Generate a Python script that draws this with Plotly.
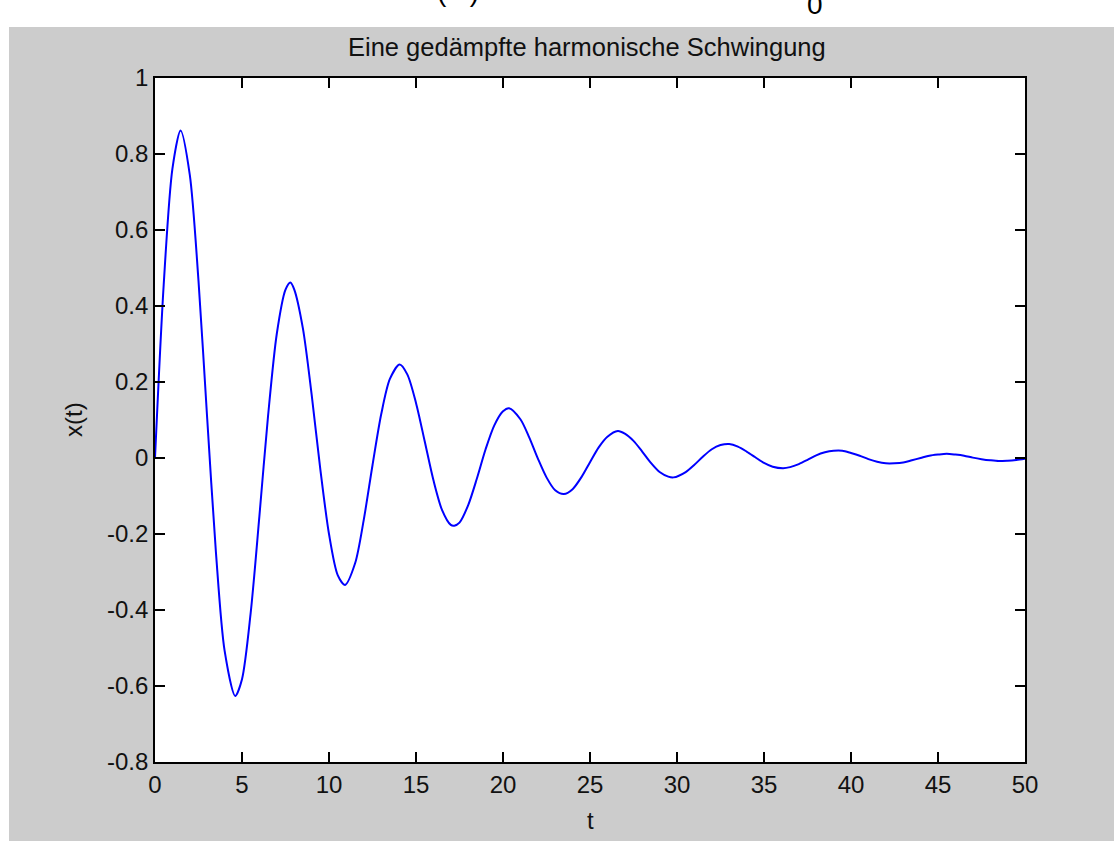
import plotly.graph_objects as go

# Time samples and measured displacement of the damped oscillation
t = [0, 0.5, 1, 1.47, 2, 2.5, 3, 3.5, 4, 4.61, 5, 5.5, 6, 6.5, 7, 7.5, 7.78, 8, 8.5, 9, 9.5,
     10, 10.5, 10.92, 11.5, 12, 12.5, 13, 13.5, 14.06, 14.5, 15, 15.5, 16, 16.5, 17, 17.2, 17.5,
     18, 18.5, 19, 19.5, 20, 20.35, 21, 21.5, 22, 22.5, 23, 23.5, 24, 24.5, 25, 25.5,
     26, 26.6, 27, 27.5, 28, 28.5, 29, 29.5, 29.8, 30.5, 31, 31.5, 32, 32.5, 33, 33.5,
     34, 34.5, 35, 35.5, 36.1, 36.5, 37, 37.5, 38, 38.5, 39, 39.5, 40, 40.5, 41, 41.5,
     42, 42.5, 43, 43.5, 44, 44.5, 45, 45.5, 46, 46.5, 47, 47.5, 48, 48.5, 49, 49.5, 50]
x = [0.000, 0.456, 0.761, 0.862, 0.745, 0.466, 0.104, -0.247, -0.507, -0.626,
     -0.582, -0.407, -0.153, 0.112, 0.327, 0.443, 0.462, 0.444, 0.341, 0.168, -0.029,
     -0.200, -0.308, -0.334, -0.277, -0.162, -0.019, 0.115, 0.208, 0.246, 0.220,
     0.145, 0.044, -0.058, -0.137, -0.176, -0.178, -0.170, -0.124, -0.054, 0.023, 0.086,
     0.123, 0.131, 0.102, 0.055, -0.001, -0.051, -0.085, -0.095, -0.082, -0.051,
     -0.011, 0.028, 0.056, 0.071, 0.064, 0.045, 0.017, -0.013, -0.037, -0.049,
     -0.051, -0.037, -0.018, 0.004, 0.023, 0.034, 0.037, 0.030, 0.017, 0.002,
     -0.013, -0.023, -0.027, -0.024, -0.016, -0.005, 0.007, 0.015, 0.019, 0.019,
     0.013, 0.006, -0.003, -0.010, -0.014, -0.014, -0.012, -0.006, 0.000, 0.006,
     0.009, 0.011, 0.009, 0.006, 0.001, -0.003, -0.006, -0.008, -0.007, -0.005, -0.002]

x_ticks = [0, 5, 10, 15, 20, 25, 30, 35, 40, 45, 50]
y_ticks = [-0.8, -0.6, -0.4, -0.2, 0, 0.2, 0.4, 0.6, 0.8, 1]
y_tick_text = ["-0.8", "-0.6", "-0.4", "-0.2", "0", "0.2", "0.4", "0.6", "0.8", "1"]

W, H = 1114, 841
L, R, T, B = 155, 1025, 78, 762  # plot box in pixels
FONT = "Liberation Sans, Arial, sans-serif"
GRAY = "#cccccc"
INK = "#111111"


def px_x(p):
    return (p - L) / (R - L)


def px_y(p):
    return (B - p) / (B - T)


fig = go.Figure()
fig.add_trace(go.Scatter(
    x=t, y=x, mode="lines",
    line=dict(color="#0000ff", width=2, shape="spline", smoothing=0.8),
    showlegend=False, hoverinfo="skip",
))

axis_common = dict(
    showline=True, linecolor="black", linewidth=1.6, mirror="ticks",
    ticks="inside", ticklen=10, tickwidth=1.5, tickcolor="black",
    showgrid=False, zeroline=False,
    tickfont=dict(family=FONT, size=24, color=INK),
)

fig.update_xaxes(range=[0, 50], tickvals=x_ticks, ticktext=[str(v) for v in x_ticks],
                 **axis_common)
fig.update_yaxes(range=[-0.8, 1], tickvals=y_ticks, ticktext=y_tick_text,
                 **axis_common)

# White strips along the top and left edges of the page
shapes = [
    dict(type="rect", xref="paper", yref="paper", layer="below",
         x0=px_x(0), x1=px_x(W), y0=px_y(27), y1=px_y(0),
         fillcolor="white", line=dict(width=0)),
    dict(type="rect", xref="paper", yref="paper", layer="below",
         x0=px_x(0), x1=px_x(9), y0=px_y(H), y1=px_y(0),
         fillcolor="white", line=dict(width=0)),
]

annotations = [
    dict(text="Eine gedämpfte harmonische Schwingung", xref="paper", yref="paper",
         x=px_x(587), y=px_y(47), xanchor="center", yanchor="middle", showarrow=False,
         font=dict(family=FONT, size=25.5, color=INK)),
    dict(text="t", xref="paper", yref="paper",
         x=px_x(590), y=px_y(820), xanchor="center", yanchor="middle", showarrow=False,
         font=dict(family=FONT, size=24, color=INK)),
    dict(text="x(t)", xref="paper", yref="paper", textangle=-90,
         x=px_x(73), y=px_y(420), xanchor="center", yanchor="middle", showarrow=False,
         font=dict(family=FONT, size=24, color=INK)),
    # lower edges of the equation line running off the top of the page
    dict(text="(   )", xref="paper", yref="paper",
         x=px_x(458), y=px_y(-8), xanchor="center", yanchor="middle", showarrow=False,
         font=dict(family=FONT, size=28, color="black")),
    dict(text="0", xref="paper", yref="paper",
         x=px_x(815), y=px_y(4), xanchor="center", yanchor="middle", showarrow=False,
         font=dict(family=FONT, size=28, color="black")),
]

fig.update_layout(
    width=W, height=H,
    margin=dict(l=L, r=W - R, t=T, b=H - B, pad=0),
    paper_bgcolor=GRAY, plot_bgcolor="white",
    shapes=shapes, annotations=annotations,
)

fig.write_html("out.html", include_plotlyjs=True, full_html=True,
               config=dict(displayModeBar=False))
